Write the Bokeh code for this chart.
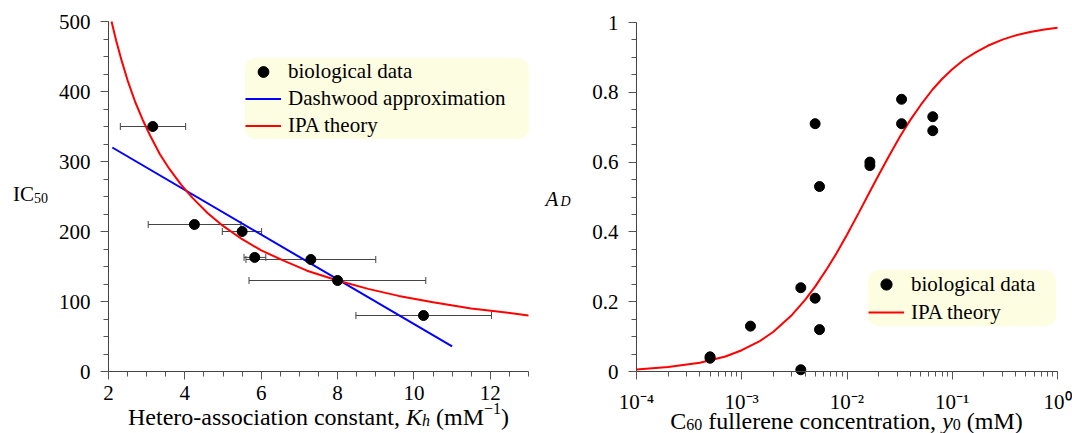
from bokeh.plotting import figure
from bokeh.models import (Range1d, FixedTicker, Legend, LegendItem, Whisker,
                          ColumnDataSource, Label, TeeHead)
from bokeh.layouts import row
from bokeh.embed import file_html
from bokeh.resources import INLINE

FONT = "Liberation Serif"
NB = "\u00a0"

# ---------------- left panel data ----------------
kh_data = [3.16, 4.25, 5.50, 5.83, 7.30, 8.00, 10.25]
ic50_data = [350, 210, 200, 163, 160, 130, 80]
kh_err_low = [2.31, 3.04, 4.98, 5.55, 5.60, 5.68, 8.48]
kh_err_high = [4.02, 5.47, 6.01, 6.12, 9.00, 10.31, 12.03]

dashwood_kh = [2.1, 11.0]
dashwood_ic50 = [320, 36]

ipa_kh = [2.08, 2.2, 2.35, 2.5, 2.7, 2.9, 3.1, 3.35, 3.6, 3.9, 4.2, 4.6,
          5.0, 5.5, 6.0, 6.6, 7.2, 8.0, 8.8, 9.6, 10.5, 11.5, 12.3, 13.0]
ipa_ic50 = [500, 473, 443, 416, 385, 359, 336, 310, 289, 267, 248, 226,
            208, 189, 173, 158, 144, 130, 118, 108, 99, 90, 85, 80]

left_x_ticks = [2, 4, 6, 8, 10, 12]
left_y_ticks = [0, 100, 200, 300, 400, 500]

# ---------------- right panel data ----------------
y0_data = [5e-4, 5e-4, 1.21e-3, 3.64e-3, 3.64e-3, 4.98e-3, 4.98e-3, 5.48e-3,
           5.48e-3, 1.65e-2, 1.65e-2, 3.3e-2, 3.3e-2, 6.53e-2, 6.53e-2]
ad_data = [0.038, 0.042, 0.13, 0.005, 0.24, 0.21, 0.71, 0.53,
           0.12, 0.60, 0.59, 0.78, 0.71, 0.73, 0.69]

ipa_y0 = [1e-4, 2e-4, 4e-4, 7e-4, 1e-3, 1.5e-3, 2e-3, 3e-3, 4e-3, 5e-3, 6.5e-3,
          8e-3, 1e-2, 1.3e-2, 1.6e-2, 2e-2, 2.5e-2, 3.2e-2, 4e-2, 5e-2, 6.5e-2,
          8e-2, 0.1, 0.13, 0.17, 0.22, 0.3, 0.4, 0.55, 0.75, 1.0]
ipa_ad = [0.006, 0.013, 0.025, 0.043, 0.061, 0.088, 0.114, 0.162, 0.205, 0.244,
          0.296, 0.340, 0.392, 0.456, 0.508, 0.563, 0.617, 0.674, 0.721, 0.763,
          0.808, 0.838, 0.866, 0.894, 0.916, 0.934, 0.951, 0.963, 0.973, 0.980, 0.985]

right_x_ticks = [1e-4, 1e-3, 1e-2, 1e-1, 1.0]
right_x_labels = ["10\u207b\u2074", "10\u207b\u00b3", "10\u207b\u00b2", "10\u207b\u00b9", "10\u2070"]
right_y_ticks = [0, 0.2, 0.4, 0.6, 0.8, 1.0]
right_y_labels = ["0", "0.2", "0.4", "0.6", "0.8", "1"]

# ---------------- layout helpers (page pixel -> data) ----------------
W, H = 536, 433
BL = -7  # baseline correction for Bokeh's text placement


def lx(px):
    return 2 + (px - 108) * 11.0 / 420.0


def ly(py):
    return (371 - py) * 500.0 / 350.0


def rx(px):
    return 10 ** (-4 + (px - 636) * 4.0 / 421.0)


def ry(py):
    return (371 - py) / 349.0


TW = {' ': 250, NB: 250, '(': 333, ')': 333, ',': 250, '-': 333, '\u2212': 564,
      'a': 444, 'c': 444, 'e': 444, 'f': 333, 'i': 278, 'l': 278, 'm': 778,
      'n': 500, 'o': 500, 'r': 333, 's': 389, 't': 278, 'u': 500, 'H': 722,
      'M': 889, 'C': 667, 'I': 333, 'A': 722, 'D': 722}
TWI = {'K': 667, 'h': 500, 'y': 444, 'A': 611, 'D': 722}


def tw(s, size, italic=False):
    tot = 0
    for ch in s:
        if italic and ch in TWI:
            tot += TWI[ch]
        else:
            tot += TW.get(ch, 500)
    return tot / 1000.0 * size


def style(p):
    p.grid.visible = False
    p.outline_line_color = None
    p.background_fill_color = "white"
    p.border_fill_color = "white"
    for ax in p.axis:
        ax.axis_line_color = "#444444"
        ax.axis_line_width = 1
        ax.major_tick_line_color = "#555555"
        ax.minor_tick_line_color = "#555555"
        ax.major_tick_in = 0
        ax.major_tick_out = 8
        ax.minor_tick_in = 0
        ax.minor_tick_out = 5
        ax.major_label_text_font = FONT
        ax.major_label_text_font_size = "21px"
        ax.major_label_text_color = "black"


def add_label(p, x, y, text, size=21, fstyle="normal", x_offset=0, align="left"):
    p.add_layout(Label(x=x, y=y, text=text, text_font=FONT,
                       text_font_size="%gpx" % size, text_font_style=fstyle,
                       text_align=align, text_baseline="alphabetic",
                       text_color="black", x_offset=x_offset))


def add_pieces(p, cx, base_py, ymap, pieces):
    total = sum(tw(t, s, st == "italic") for t, s, st, dy in pieces)
    off = -total / 2.0
    for t, s, st, dy in pieces:
        lead = len(t) - len(t.lstrip(" "))
        shown = t.strip(" ")
        off_piece = off + tw(" " * lead, s)
        add_label(p, cx, ymap(base_py + dy + BL), shown, size=s, fstyle=st,
                  x_offset=off_piece)
        off += tw(t, s, st == "italic")


def make_legend(items, loc, gh, pad, lw):
    leg = Legend(items=items, location=loc)
    leg.background_fill_color = "#fdfde2"
    leg.background_fill_alpha = 1.0
    leg.border_line_color = None
    leg.padding = pad
    leg.spacing = 0
    leg.margin = 0
    leg.glyph_height = gh
    leg.label_height = gh
    leg.glyph_width = 36
    leg.label_width = lw
    leg.label_standoff = 7
    leg.label_text_font = FONT
    leg.label_text_font_size = "21px"
    leg.label_text_color = "black"
    try:
        leg.border_radius = 10
    except Exception:
        pass
    return leg


def base_fig(**kw):
    return figure(width=W, height=H, output_backend="svg", toolbar_location=None,
                  min_border_left=0, min_border_right=0, min_border_top=0,
                  min_border_bottom=0, **kw)


# ---------------- left figure ----------------
p1 = base_fig(x_range=Range1d(lx(0), lx(W)), y_range=Range1d(ly(H), ly(0)))
style(p1)
p1.xaxis.fixed_location = 0
p1.yaxis.fixed_location = 2
p1.xaxis.bounds = (2, 13)
p1.yaxis.bounds = (0, 500)
p1.xaxis.ticker = FixedTicker(ticks=left_x_ticks,
                              minor_ticks=[2 + 0.5 * i for i in range(23)])
p1.yaxis.ticker = FixedTicker(ticks=left_y_ticks,
                              minor_ticks=[25 * i for i in range(21)])
p1.xaxis.major_label_standoff = 6
p1.yaxis.major_label_standoff = 10

err_src = ColumnDataSource(dict(y=ic50_data, lo=kh_err_low, hi=kh_err_high))
p1.add_layout(Whisker(base="y", lower="lo", upper="hi", dimension="width",
                      source=err_src, line_color="#444444", line_width=1,
                      lower_head=TeeHead(size=7, line_color="#444444", line_width=1),
                      upper_head=TeeHead(size=7, line_color="#444444", line_width=1)))

b1 = p1.line(dashwood_kh, dashwood_ic50, line_color="#0000ff", line_width=2)
r1 = p1.line(ipa_kh, ipa_ic50, line_color="#ff0000", line_width=2)
s1 = p1.scatter(kh_data, ic50_data, size=10, fill_color="black", line_color="black")

p1.add_layout(make_legend([LegendItem(label="biological data", renderers=[s1]),
                           LegendItem(label="Dashwood approximation", renderers=[b1]),
                           LegendItem(label="IPA theory", renderers=[r1])],
                          (245, H - 139), 27, 8, 241))

add_label(p1, lx(12.5), ly(200.7 + BL), "IC", size=21)
add_label(p1, lx(33.5), ly(204.0 + BL), "50", size=14)

add_pieces(p1, lx(318), 423, ly, [
    ("Hetero-association constant, ", 24, "normal", 0),
    ("K", 24, "italic", 0),
    ("h", 16, "italic", 4),
    (" (mM", 24, "normal", 0),
    ("\u22121", 16, "normal", -8),
    (")", 24, "normal", 0),
])

# ---------------- right figure ----------------
p2 = base_fig(x_axis_type="log", x_range=Range1d(rx(536), rx(536 + W)),
              y_range=Range1d(ry(H), ry(0)))
style(p2)
p2.xaxis.fixed_location = 0
p2.yaxis.fixed_location = 1e-4
p2.xaxis.bounds = (1e-4, 1.0)
p2.yaxis.bounds = (0, 1)
p2.xaxis.ticker = FixedTicker(ticks=right_x_ticks,
                              minor_ticks=[m * 10.0 ** e for e in range(-4, 0) for m in range(1, 10)] + [1.0])
p2.yaxis.ticker = FixedTicker(ticks=right_y_ticks,
                              minor_ticks=[round(0.05 * i, 2) for i in range(21)])
p2.xaxis.major_label_overrides = dict(zip(right_x_ticks, right_x_labels))
p2.yaxis.major_label_overrides = dict(zip(right_y_ticks, right_y_labels))
p2.xaxis.major_label_standoff = 10
p2.yaxis.major_label_standoff = 10

r2 = p2.line(ipa_y0, ipa_ad, line_color="#ff0000", line_width=2)
s2 = p2.scatter(y0_data, ad_data, size=10, fill_color="black", line_color="black")

p2.add_layout(make_legend([LegendItem(label="biological data", renderers=[s2]),
                           LegendItem(label="IPA theory", renderers=[r2])],
                          (868 - 536, H - 326), 28, 8, 145))

add_label(p2, rx(545), ry(205 + BL), "A", size=21, fstyle="italic")
add_label(p2, rx(560), ry(208 + BL), "D", size=14, fstyle="italic")

add_pieces(p2, rx(846), 427, ry, [
    ("C", 24, "normal", 0),
    ("60", 16, "normal", 4),
    (" fullerene concentration, ", 24, "normal", 0),
    ("y", 24, "italic", 0),
    ("0", 16, "normal", 4),
    (" (mM)", 24, "normal", 0),
])

layout = row(p1, p2)
open("out.html", "w").write(file_html(layout, INLINE))
